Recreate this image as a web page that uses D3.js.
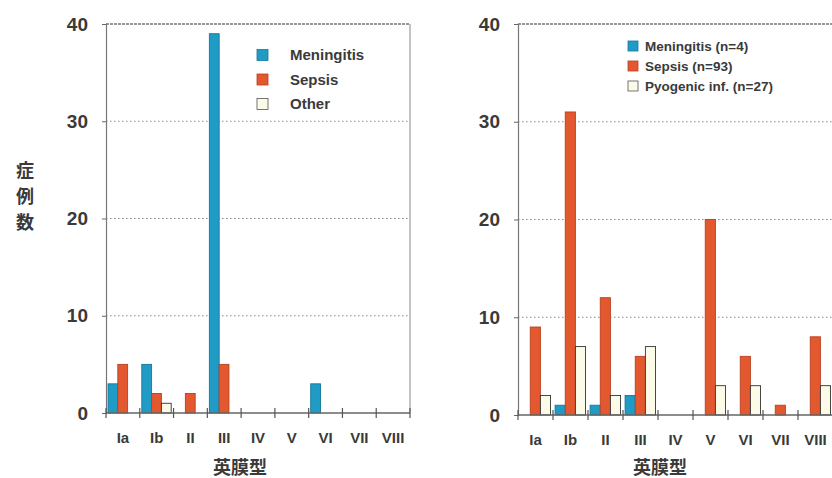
<!DOCTYPE html>
<html>
<head>
<meta charset="utf-8">
<script src="https://cdn.jsdelivr.net/npm/d3@7"></script>
<style>
  html, body { margin: 0; padding: 0; background: #fff; }
  svg { display: block; }
  text { font-family: "Liberation Sans", Arial, sans-serif; fill: #3a3a3a; }
</style>
</head>
<body>
<svg id="chart" width="832" height="478"></svg>
<script>
// Capsular types shared by both panels
const categories = ["Ia", "Ib", "II", "III", "IV", "V", "VI", "VII", "VIII"];
const yTicks = [0, 10, 20, 30, 40];

// Left panel: case counts per capsular type
const leftSeries = ["Meningitis", "Sepsis", "Other"];
const leftMeningitis = [3, 5, 0, 39, 0, 0, 3, 0, 0];
const leftSepsis     = [5, 2, 2, 5, 0, 0, 0, 0, 0];
const leftOther      = [0, 1, 0, 0, 0, 0, 0, 0, 0];

// Right panel: case counts per capsular type
const rightSeries = ["Meningitis (n=4)", "Sepsis (n=93)", "Pyogenic inf. (n=27)"];
const rightMeningitis = [0, 1, 1, 2, 0, 0, 0, 0, 0];
const rightSepsis     = [9, 31, 12, 6, 0, 20, 6, 1, 8];
const rightPyogenic   = [2, 7, 2, 7, 0, 3, 3, 0, 3];

const fills   = ["#1f9bc6", "#e4582f", "#fcfbe8"];
const strokes = ["#17779a", "#b8401f", "#333333"];

const svg = d3.select("#chart");

function panel(cfg) {
  const g = svg.append("g");
  const x = d3.scaleBand().domain(categories).range([cfg.x0, cfg.x1]).paddingInner(0).paddingOuter(0);
  const y = d3.scaleLinear().domain([0, 40]).range([cfg.y0, cfg.y1]);
  const sub = d3.scaleBand().domain(d3.range(3)).range([x.bandwidth() * 0.06, x.bandwidth() * 0.93]).padding(0);

  // dotted grid lines
  g.selectAll("line.grid").data([10, 20, 30]).join("line")
    .attr("x1", cfg.x0).attr("x2", cfg.x1)
    .attr("y1", d => y(d)).attr("y2", d => y(d))
    .attr("stroke", "#8a8a8a").attr("stroke-width", 1.2)
    .attr("stroke-dasharray", "1.5,2.5");

  // top border
  g.append("line")
    .attr("x1", cfg.x0).attr("x2", cfg.x1)
    .attr("y1", y(40)).attr("y2", y(40))
    .attr("stroke", "#777").attr("stroke-width", 1.3)
    .attr("stroke-dasharray", "3,1");

  // right border
  g.append("line")
    .attr("x1", cfg.x1).attr("x2", cfg.x1)
    .attr("y1", y(40)).attr("y2", y(0))
    .attr("stroke", "#888").attr("stroke-width", 1);

  // bars
  const series = cfg.values.map((vals, si) => vals.map((v, ci) => ({ cat: categories[ci], si, v })));
  series.forEach((rows, si) => {
    g.selectAll(null).data(rows.filter(d => d.v > 0)).join("rect")
      .attr("x", d => x(d.cat) + sub(d.si))
      .attr("width", sub.bandwidth())
      .attr("y", d => y(d.v))
      .attr("height", d => y(0) - y(d.v))
      .attr("fill", fills[si])
      .attr("stroke", strokes[si])
      .attr("stroke-width", 0.9);
  });

  // y axis
  const yAxis = d3.axisLeft(y).tickValues(yTicks).tickSize(4).tickPadding(14);
  const ya = g.append("g").attr("transform", `translate(${cfg.x0},0)`).call(yAxis);
  ya.select(".domain").attr("stroke", "#777").attr("stroke-width", 1.2);
  ya.selectAll(".tick line").attr("stroke", "#666");
  ya.selectAll(".tick text").attr("font-size", 19).attr("font-weight", "bold").attr("fill", "#333")
    .style("font-family", "'Liberation Sans', Arial, sans-serif");

  // x axis baseline with boundary ticks
  g.append("line")
    .attr("x1", cfg.x0).attr("x2", cfg.x1)
    .attr("y1", y(0)).attr("y2", y(0))
    .attr("stroke", "#666").attr("stroke-width", 1.4);
  const bounds = categories.map(c => x(c)).concat([cfg.x1]);
  g.selectAll(null).data(bounds).join("line")
    .attr("x1", d => d).attr("x2", d => d)
    .attr("y1", y(0) - 5).attr("y2", y(0) + 5)
    .attr("stroke", "#555").attr("stroke-width", 1.2);

  // category labels
  g.selectAll(null).data(categories).join("text")
    .attr("x", d => x(d) + x.bandwidth() / 2)
    .attr("y", y(0) + 30)
    .attr("text-anchor", "middle")
    .attr("font-size", 15).attr("font-weight", "bold").attr("fill", "#444")
    .text(d => d);

  // x axis title
  g.append("text")
    .attr("x", cfg.titleX).attr("y", 474)
    .attr("text-anchor", "middle")
    .attr("font-size", 18).attr("font-weight", "bold").attr("fill", "#3a3a3a")
    .style("font-family", "'Noto Sans CJK JP', sans-serif")
    .text("英膜型");

  // legend
  const lg = g.append("g");
  cfg.legend.labels.forEach((lab, i) => {
    const ly = cfg.legend.y + i * cfg.legend.step;
    lg.append("rect")
      .attr("x", cfg.legend.x).attr("y", ly - cfg.legend.sw / 2)
      .attr("width", cfg.legend.sw).attr("height", cfg.legend.sw)
      .attr("fill", fills[i]).attr("stroke", i === 2 ? "#555" : strokes[i]).attr("stroke-width", 0.8);
    lg.append("text")
      .attr("x", cfg.legend.tx).attr("y", ly)
      .attr("dy", "0.36em")
      .attr("font-size", cfg.legend.fs).attr("font-weight", "bold").attr("fill", "#444")
      .text(lab);
  });
}

panel({
  x0: 106, x1: 410, y0: 413, y1: 24, titleX: 240,
  values: [leftMeningitis, leftSepsis, leftOther],
  legend: { labels: leftSeries, x: 257, tx: 290, y: 55, step: 24.5, sw: 11, fs: 15 }
});

panel({
  x0: 518, x1: 833, y0: 415, y1: 24, titleX: 660,
  values: [rightMeningitis, rightSepsis, rightPyogenic],
  legend: { labels: rightSeries, x: 628, tx: 645, y: 46, step: 20, sw: 10, fs: 13.5 }
});

// vertical y-axis title on the left
svg.append("g").selectAll("text").data(["症", "例", "数"]).join("text")
  .attr("x", 25).attr("y", (d, i) => 171 + i * 26)
  .attr("dy", "0.36em")
  .attr("text-anchor", "middle")
  .attr("font-size", 18).attr("font-weight", "bold").attr("fill", "#444")
  .style("font-family", "'Noto Sans CJK JP', sans-serif")
  .text(d => d);
</script>
</body>
</html>
